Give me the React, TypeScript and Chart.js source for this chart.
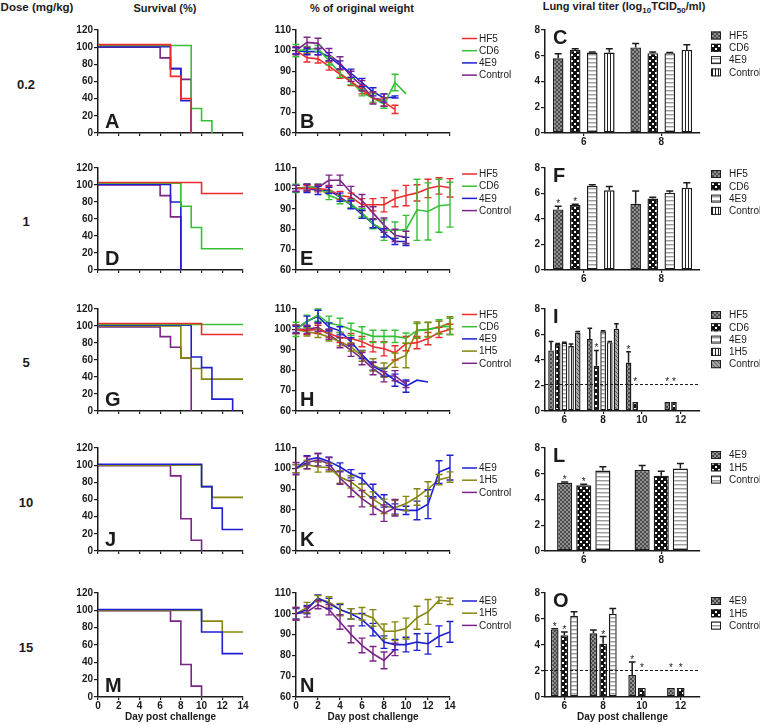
import React, { useEffect, useRef } from "react";
import { Chart, registerables } from "chart.js";
Chart.register(...registerables);

type Pt = [number, number];

// ---------------- Survival (%) : [day, percent] step points ----------------
const A_HF5: Pt[] = [[0, 103], [7, 66], [8, 40], [9, 0]];
const A_CD6: Pt[] = [[0, 102], [9, 28.6], [10, 14.3], [11, 0]];
const A_4E9: Pt[] = [[0, 100.6], [7, 75], [8, 37.5], [9, 0]];
const A_CTRL: Pt[] = [[0, 100], [6, 87.5], [7, 75], [8, 62.5], [9, 0]];

const D_HF5: Pt[] = [[0, 103], [10, 90], [14, 90]];
const D_CD6: Pt[] = [[0, 102], [8, 75], [9, 50], [10, 25], [14, 25]];
const D_4E9: Pt[] = [[0, 100.6], [7, 80], [8, 0]];
const D_CTRL: Pt[] = [[0, 100], [6, 87.5], [7, 62.5], [8, 0]];

const G_HF5: Pt[] = [[0, 103], [10, 90], [14, 90]];
const G_CD6: Pt[] = [[0, 101.7], [14, 101.7]];
const G_4E9: Pt[] = [[0, 100.8], [9, 63.5], [10, 51], [11, 14], [13, 0]];
const G_1H5: Pt[] = [[0, 100], [8, 62.5], [9, 50], [10, 37.5], [14, 37.5]];
const G_CTRL: Pt[] = [[0, 99], [6, 87.5], [7, 75], [8, 62.5], [9, 0]];

const J_4E9: Pt[] = [[0, 101], [10, 75], [11, 50], [12, 25], [14, 25]];
const J_1H5: Pt[] = [[0, 100], [10, 75], [11, 62.5], [14, 62.5]];
const J_CTRL: Pt[] = [[0, 99.5], [7, 87.5], [8, 37.5], [9, 12.5], [10, 0]];

const M_4E9: Pt[] = [[0, 101], [10, 75], [12, 50], [14, 50]];
const M_1H5: Pt[] = [[0, 100], [10, 87.5], [12, 75], [14, 75]];
const M_CTRL: Pt[] = [[0, 99.5], [7, 87.5], [8, 37.5], [9, 12.5], [10, 0]];

// ---------------- % of original weight (value per day from day 0) ----------------
const B_HF5 = [100, 96.5, 96, 92.5, 88.5, 85, 81, 77, 75, 71.5];
const B_HF5_ERR = [1.5, 2, 2, 2, 2, 2, 2, 2.5, 2, 2];
const B_CD6 = [100, 100.5, 101, 95, 89, 85, 79.5, 77, 74, 84.5, 79];
const B_CD6_ERR = [3, 1.5, 1.5, 2, 2, 1.5, 1.5, 2, 2, 4, 0];
const B_4E9 = [100, 99.5, 99.5, 97, 93, 89, 84.5, 80, 77, 77.5];
const B_4E9_ERR = [1.5, 1.5, 1.5, 2, 2, 2, 2, 2, 2, 0.5];
const B_CTRL = [100, 104, 103.5, 98, 94, 87.5, 83, 77, 76];
const B_CTRL_ERR = [2, 2.5, 2.5, 3, 3, 2.5, 2.5, 3, 3];

const E_HF5 = [100, 100, 99.8, 99.5, 96.5, 95.7, 92, 92, 92, 95, 96.5, 97.8, 100, 101.2, 100.3];
const E_HF5_ERR = [1.5, 1.5, 1.5, 1.5, 2, 2, 3, 3, 3.5, 4, 5, 4, 4.5, 4, 4.5];
const E_CD6 = [100, 100.5, 100.5, 96.5, 94.5, 92.5, 88, 82.7, 79.5, 79.5, 79.8, 89.5, 88.7, 91.5, 92];
const E_CD6_ERR = [2, 1.5, 1.5, 2, 2, 2, 2, 2.5, 5, 4, 7, 15, 14, 13, 11];
const E_4E9 = [100, 100, 99, 99, 95.7, 92, 87.3, 82.7, 78.2, 74, 74];
const E_4E9_ERR = [1.5, 2, 2, 1.5, 2, 2, 2, 2, 2, 1.5, 2];
const E_CTRL = [100, 100.5, 100.5, 104, 104, 98, 94, 88, 82, 77, 76];
const E_CTRL_ERR = [1.5, 1.5, 1.5, 2.5, 2.5, 3, 3, 3, 3.5, 3, 3];

const H_HF5 = [100, 99.5, 100, 98, 96, 95.5, 94, 91.5, 90.5, 88.5, 93, 93.5, 95.5, 98.5, 100];
const H_HF5_ERR = [2, 2, 2, 2, 2.5, 2.5, 2.5, 2.5, 3.5, 3.5, 3.5, 3, 3, 2.5, 2.5];
const H_CD6 = [100, 104, 107, 103, 102, 100, 98.3, 96.6, 96.6, 96.6, 95.7, 99.4, 99.9, 101.2, 101.5];
const H_CD6_ERR = [3.5, 3, 3, 3.5, 3.5, 3, 3, 3, 3, 3, 2.5, 3.5, 3.5, 3.5, 4];
const H_4E9 = [100, 104, 106.4, 101.2, 99.3, 93.9, 87.7, 82, 79, 75.1, 72.2, 75.1, 74.2];
const H_4E9_ERR = [1.5, 2.5, 3, 2, 2, 2, 2, 2, 2, 3, 3, 0, 0];
const H_1H5 = [100, 98.8, 98, 96.3, 93.9, 91.4, 86.9, 82.6, 80, 84.9, 87.2, 99.6, 100, 101, 103.2];
const H_1H5_ERR = [2, 2, 2, 2, 2, 2, 2.5, 3, 3.5, 3.5, 6, 4, 3.5, 3, 3];
const H_CTRL = [100, 100, 101, 97.6, 93.5, 89.8, 85.7, 80.8, 76.8, 77.3, 73];
const H_CTRL_ERR = [2, 2, 2, 2.5, 2.5, 3, 3, 3, 2.5, 2.5, 1.5];

const K_4E9 = [100, 104.3, 105.3, 103.5, 100.8, 97.5, 95.1, 89.4, 84.3, 80.4, 79.7, 79.7, 82.7, 98.3, 100.5];
const K_4E9_ERR = [2, 2, 2, 2, 2, 2, 2.5, 3, 3, 2.5, 2, 4.5, 7, 5.5, 6];
const K_1H5 = [100, 101.9, 100.8, 100.5, 95.9, 93.5, 89.4, 85.2, 81.7, 81, 83, 86.2, 90.1, 94.6, 95.9];
const K_1H5_ERR = [2, 2, 2.5, 2, 3, 3, 3, 3.5, 3.5, 3.5, 3.5, 4, 3.5, 2.5, 2.5];
const K_CTRL = [100, 102.9, 104.3, 102.4, 95.4, 90.3, 85.4, 81.7, 78.4, 81];
const K_CTRL_ERR = [3, 3, 3, 3, 3, 4, 4, 4, 4, 4];

const N_4E9 = [100, 102, 107.6, 104.9, 102, 100, 97.2, 92.4, 86.4, 85.2, 85.2, 86.4, 85.6, 89.2, 91.3];
const N_4E9_ERR = [2.5, 2, 1.5, 2.5, 2.5, 2.5, 3, 3, 3, 2.5, 3.5, 4, 5, 5, 5];
const N_1H5 = [100, 103, 107.3, 105.7, 102, 100, 100, 98, 91.6, 91.6, 92.9, 98.1, 100.9, 106.5, 106];
const N_1H5_ERR = [3, 2.5, 1.5, 2.5, 3, 2.5, 3, 4, 3.5, 4.5, 5, 5.5, 6, 1.5, 1.5];
const N_CTRL = [100, 100.9, 104.4, 102, 96.1, 90.1, 84.8, 80.8, 77.6, 82.9];
const N_CTRL_ERR = [3, 2.5, 2, 2.5, 3.5, 4, 3.5, 3.5, 4, 3];

// ---------------- Lung viral titer (log10 TCID50/ml) ----------------
const DAYS_2 = ["6", "8"];
const DAYS_4 = ["6", "8", "10", "12"];
const LIMIT = 2.1;

const C_HF5 = [5.8, 6.65];
const C_HF5_ERR = [0.35, 0.3];
const C_CD6 = [6.45, 6.2];
const C_CD6_ERR = [0.1, 0.1];
const C_4E9 = [6.25, 6.2];
const C_4E9_ERR = [0.05, 0.05];
const C_CTRL = [6.25, 6.45];
const C_CTRL_ERR = [0.3, 0.4];

const F_HF5 = [4.75, 5.2];
const F_HF5_ERR = [0.25, 1.0];
const F_HF5_STAR = [true, false];
const F_CD6 = [5.1, 5.6];
const F_CD6_ERR = [0.05, 0.1];
const F_CD6_STAR = [true, false];
const F_4E9 = [6.6, 6.05];
const F_4E9_ERR = [0.08, 0.15];
const F_CTRL = [6.25, 6.45];
const F_CTRL_ERR = [0.3, 0.4];

const I_HF5 = [4.75, 5.65, 3.8, 0.7];
const I_HF5_ERR = [0.7, 0.85, 0.85, 0];
const I_HF5_STAR = [false, false, true, true];
const I_CD6 = [5.25, 3.55, 0.7, 0.7];
const I_CD6_ERR = [0.05, 1.2, 0, 0];
const I_CD6_STAR = [false, true, true, true];
const I_4E9 = [5.35, 6.25, null, null];
const I_4E9_ERR = [0.05, 0.05, 0, 0];
const I_1H5 = [5.1, 5.4, null, null];
const I_1H5_ERR = [0.15, 0.05, 0, 0];
const I_CTRL = [6.15, 6.45, null, null];
const I_CTRL_ERR = [0.08, 0.4, 0, 0];

const L_4E9 = [5.3, 6.3];
const L_4E9_ERR = [0.05, 0.35];
const L_4E9_STAR = [true, false];
const L_1H5 = [5.1, 5.85];
const L_1H5_ERR = [0.08, 0.35];
const L_1H5_STAR = [true, false];
const L_CTRL = [6.25, 6.4];
const L_CTRL_ERR = [0.3, 0.4];

const O_4E9 = [5.2, 4.9, 1.7, 0.7];
const O_4E9_ERR = [0.05, 0.25, 1.0, 0];
const O_4E9_STAR = [true, false, true, true];
const O_1H5 = [4.75, 4.1, 0.7, 0.7];
const O_1H5_ERR = [0.25, 0.55, 0, 0];
const O_1H5_STAR = [true, true, true, true];
const O_CTRL = [6.25, 6.4, null, null];
const O_CTRL_ERR = [0.3, 0.4, 0, 0];

const DOSES = ["0.2", "1", "5", "10", "15"];
const LETTERS = ["A", "B", "C", "D", "E", "F", "G", "H", "I", "J", "K", "L", "M", "N", "O"];

// ---------------- styling / layout ----------------
const FONT = "'Liberation Sans', Arial, Helvetica, sans-serif";
const INK = "#1b1b1b";
const COLORS: Record<string, string> = {
  HF5: "#ec2b2b",
  CD6: "#36c036",
  "4E9": "#1e1ed2",
  "1H5": "#86860f",
  Control: "#7b2387",
};
const YW = 40;
const PT = 12;
const ROW_TOP = [30, 168, 309, 448, 593];
const ROW_BOT = [133, 270, 411, 551, 697];
const COL = [
  { ax: 98, right: 243, pr: 12 },
  { ax: 296, right: 450, pr: 62 },
  { ax: 545, right: 700, pr: 60 },
];
const XH = (row: number) => (row === 4 ? 28 : 16);

function geom(row: number, col: number) {
  const c = COL[col];
  return {
    left: c.ax - YW,
    top: ROW_TOP[row] - PT,
    width: YW + (c.right - c.ax) + c.pr,
    height: PT + (ROW_BOT[row] - ROW_TOP[row]) + XH(row),
  };
}

function makePattern(kind: string): any {
  const c = document.createElement("canvas");
  const g = c.getContext("2d")!;
  if (kind === "hatch" || kind === "hatch2") {
    c.width = 4; c.height = 4;
    g.fillStyle = kind === "hatch" ? "#8f8f8f" : "#a4a4a4";
    g.fillRect(0, 0, 4, 4);
    g.fillStyle = kind === "hatch" ? "#4a4a4a" : "#5c5c5c";
    for (let i = 0; i < 4; i++) {
      g.fillRect(i, i, 1, 1);
      if (kind === "hatch") g.fillRect(3 - i, i, 1, 1);
    }
  } else if (kind === "check") {
    c.width = 6; c.height = 6;
    g.fillStyle = "#111";
    g.fillRect(0, 0, 6, 6);
    g.fillStyle = "#fff";
    g.fillRect(0, 0, 2, 2);
    g.fillRect(3, 3, 2, 2);
  } else if (kind === "hstripe") {
    c.width = 4; c.height = 4;
    g.fillStyle = "#fff";
    g.fillRect(0, 0, 4, 4);
    g.fillStyle = "#9c9c9c";
    g.fillRect(0, 0, 4, 1);
    g.fillStyle = "#d2d2d2";
    g.fillRect(0, 1, 4, 1);
  } else {
    c.width = 3; c.height = 3;
    g.fillStyle = "#fff";
    g.fillRect(0, 0, 3, 3);
    g.fillStyle = "#222";
    g.fillRect(0, 0, 1, 3);
  }
  return g.createPattern(c, "repeat");
}

const tickFont = { family: FONT, size: 10, weight: "bold" as const };
const titleCfg = (show: boolean) => ({
  display: show,
  text: "Day post challenge",
  font: { family: FONT, size: 10, weight: "bold" as const },
  color: INK,
  padding: { top: 0, bottom: 2 },
});
const gridCfg = { drawOnChartArea: false, drawTicks: true, tickLength: 4, color: INK, lineWidth: 1.2 };
const xGridCfg = { drawOnChartArea: false, drawTicks: true, tickLength: 3, color: INK, lineWidth: 1.2 };
const borderCfg = { display: true, color: INK, width: 1.5 };

function xLinear(row: number) {
  const bottom = row === 4;
  return {
    type: "linear",
    min: 0,
    max: 14,
    ticks: { stepSize: 2, display: bottom, font: tickFont, color: INK, padding: 0, maxRotation: 0, autoSkip: false },
    grid: xGridCfg,
    border: borderCfg,
    title: titleCfg(bottom),
    afterFit: (s: any) => { s.height = XH(row); },
  };
}
function yLinear(min: number, max: number, step: number) {
  return {
    type: "linear",
    min,
    max,
    ticks: { stepSize: step, font: tickFont, color: INK, padding: 1 },
    grid: gridCfg,
    border: borderCfg,
    afterFit: (s: any) => { s.width = YW; },
  };
}

type LegendItem = { label: string; color?: string; fill?: any };
type OverlaySpec = {
  letter: string;
  pos: "bl" | "tl";
  dx: number;
  bars?: boolean;
  limit?: number;
  legend?: { kind: "line" | "box"; items: LegendItem[]; dy: number; gap: number };
};

function overlay(spec: OverlaySpec) {
  return {
    id: "overlay",
    afterDatasetsDraw(chart: any) {
      const { ctx, chartArea: a, scales } = chart;
      const ys = scales.y;
      ctx.save();
      if (spec.limit != null) {
        const y = Math.round(ys.getPixelForValue(spec.limit)) + 0.5;
        ctx.setLineDash([3, 2]);
        ctx.strokeStyle = INK;
        ctx.lineWidth = 1;
        ctx.beginPath();
        ctx.moveTo(a.left, y);
        ctx.lineTo(a.right, y);
        ctx.stroke();
        ctx.setLineDash([]);
      }
      chart.data.datasets.forEach((ds: any, i: number) => {
        if (!ds.errs) return;
        const meta = chart.getDatasetMeta(i);
        meta.data.forEach((el: any, j: number) => {
          const raw = ds.data[j];
          const v = typeof raw === "number" ? raw : raw == null ? null : raw.y;
          if (v == null) return;
          const e = ds.errs[j] || 0;
          if (spec.bars) {
            const top = ys.getPixelForValue(v + e);
            if (e > 0) {
              const cw = Math.min(3.5, el.width / 2 - 0.5);
              ctx.strokeStyle = INK;
              ctx.lineWidth = 1.5;
              ctx.beginPath();
              ctx.moveTo(el.x, el.y);
              ctx.lineTo(el.x, top);
              ctx.moveTo(el.x - cw, top);
              ctx.lineTo(el.x + cw, top);
              ctx.stroke();
            }
            if (ds.stars && ds.stars[j]) {
              let sy = top;
              if (spec.limit != null) sy = Math.min(sy, ys.getPixelForValue(spec.limit));
              ctx.fillStyle = INK;
              ctx.font = `10px ${FONT}`;
              ctx.textAlign = "center";
              ctx.textBaseline = "alphabetic";
              ctx.fillText("*", el.x, sy + 1);
            }
          } else if (e > 0) {
            const t = ys.getPixelForValue(v + e);
            const b = ys.getPixelForValue(v - e);
            ctx.strokeStyle = ds.borderColor;
            ctx.lineWidth = 1.4;
            ctx.beginPath();
            ctx.moveTo(el.x, t);
            ctx.lineTo(el.x, b);
            ctx.moveTo(el.x - 3.5, t);
            ctx.lineTo(el.x + 3.5, t);
            ctx.moveTo(el.x - 3.5, b);
            ctx.lineTo(el.x + 3.5, b);
            ctx.stroke();
          }
        });
      });
      // panel letter
      ctx.fillStyle = INK;
      ctx.font = `bold 20px ${FONT}`;
      ctx.textAlign = "left";
      ctx.textBaseline = "alphabetic";
      ctx.fillText(spec.letter, a.left + spec.dx, spec.pos === "bl" ? a.bottom - 5 : a.top + 13.5);
      // legend
      if (spec.legend) {
        const L = spec.legend;
        ctx.font = `10px ${FONT}`;
        ctx.textBaseline = "middle";
        L.items.forEach((it, k) => {
          const y = a.top + L.dy + k * L.gap;
          if (L.kind === "line") {
            ctx.strokeStyle = it.color!;
            ctx.lineWidth = 1.5;
            ctx.beginPath();
            ctx.moveTo(a.right + 12, y);
            ctx.lineTo(a.right + 27, y);
            ctx.stroke();
          } else {
            ctx.fillStyle = it.fill;
            ctx.fillRect(a.right + 11, y - 4, 10, 8);
            ctx.strokeStyle = INK;
            ctx.lineWidth = 1;
            ctx.strokeRect(a.right + 11.5, y - 3.5, 9, 7);
          }
          ctx.fillStyle = INK;
          ctx.fillText(it.label, a.right + 29, y + 0.5);
        });
      }
      ctx.restore();
    },
  };
}

function baseOptions(row: number, col: number, scales: any) {
  return {
    responsive: false,
    animation: false,
    events: [],
    layout: { padding: { top: PT, right: COL[col].pr, left: 0, bottom: 0 } },
    plugins: { legend: { display: false }, tooltip: { enabled: false } },
    scales,
  };
}

function survival(row: number, letter: string, series: { label: string; pts: Pt[] }[]) {
  return {
    type: "line",
    data: {
      datasets: series.map((s) => ({
        label: s.label,
        data: s.pts.map(([x, y]) => ({ x, y })),
        borderColor: COLORS[s.label],
        backgroundColor: COLORS[s.label],
        borderWidth: 1.6,
        pointRadius: 0,
        stepped: "before",
        fill: false,
      })),
    },
    options: baseOptions(row, 0, { x: xLinear(row), y: yLinear(0, 120, 20) }),
    plugins: [overlay({ letter, pos: "bl", dx: 7 })],
  };
}

function weight(row: number, letter: string, legendDy: number, series: { label: string; vals: number[]; err: number[] }[]) {
  return {
    type: "line",
    data: {
      datasets: series.map((s) => ({
        label: s.label,
        data: s.vals.map((v, i) => ({ x: i, y: v })),
        errs: s.err,
        borderColor: COLORS[s.label],
        backgroundColor: COLORS[s.label],
        borderWidth: 1.6,
        pointRadius: 0,
        tension: 0,
        fill: false,
      })),
    },
    options: baseOptions(row, 1, { x: xLinear(row), y: yLinear(60, 110, 10) }),
    plugins: [
      overlay({
        letter,
        pos: "bl",
        dx: 4,
        legend: { kind: "line", dy: legendDy, gap: 12.2, items: series.map((s) => ({ label: s.label, color: COLORS[s.label] })) },
      }),
    ],
  };
}

function titer(
  row: number,
  letter: string,
  cats: string[],
  legendDy: number,
  cp: number,
  bp: number,
  limit: number | undefined,
  series: { label: string; fill: any; vals: (number | null)[]; err: number[]; stars?: boolean[] }[]
) {
  const bottom = row === 4;
  return {
    type: "bar",
    data: {
      labels: cats,
      datasets: series.map((s) => ({
        label: s.label,
        data: s.vals,
        errs: s.err,
        stars: s.stars,
        backgroundColor: s.fill,
        borderColor: INK,
        borderWidth: 1.4,
        borderSkipped: false,
        barPercentage: bp,
        categoryPercentage: cp,
      })),
    },
    options: baseOptions(row, 2, {
      x: {
        type: "category",
        offset: true,
        ticks: { font: tickFont, color: INK, padding: 0, maxRotation: 0, autoSkip: false },
        grid: { ...xGridCfg, offset: false },
        border: borderCfg,
        title: titleCfg(bottom),
        afterFit: (s: any) => { s.height = XH(row); },
      },
      y: yLinear(0, 8, 2),
    }),
    plugins: [
      overlay({
        letter,
        pos: "tl",
        dx: 8,
        bars: true,
        limit,
        legend: { kind: "box", dy: legendDy, gap: 12.3, items: series.map((s) => ({ label: s.label, fill: s.fill })) },
      }),
    ],
  };
}

function buildConfigs(P: Record<string, any>) {
  return [
    survival(0, "A", [
      { label: "HF5", pts: A_HF5 }, { label: "CD6", pts: A_CD6 }, { label: "4E9", pts: A_4E9 }, { label: "Control", pts: A_CTRL },
    ]),
    weight(0, "B", 8.5, [
      { label: "HF5", vals: B_HF5, err: B_HF5_ERR }, { label: "CD6", vals: B_CD6, err: B_CD6_ERR },
      { label: "4E9", vals: B_4E9, err: B_4E9_ERR }, { label: "Control", vals: B_CTRL, err: B_CTRL_ERR },
    ]),
    titer(0, "C", DAYS_2, 5.5, 0.88, 0.62, undefined, [
      { label: "HF5", fill: P.hatch, vals: C_HF5, err: C_HF5_ERR },
      { label: "CD6", fill: P.check, vals: C_CD6, err: C_CD6_ERR },
      { label: "4E9", fill: P.hstripe, vals: C_4E9, err: C_4E9_ERR },
      { label: "Control", fill: P.vstripe, vals: C_CTRL, err: C_CTRL_ERR },
    ]),
    survival(1, "D", [
      { label: "HF5", pts: D_HF5 }, { label: "CD6", pts: D_CD6 }, { label: "4E9", pts: D_4E9 }, { label: "Control", pts: D_CTRL },
    ]),
    weight(1, "E", 6, [
      { label: "HF5", vals: E_HF5, err: E_HF5_ERR }, { label: "CD6", vals: E_CD6, err: E_CD6_ERR },
      { label: "4E9", vals: E_4E9, err: E_4E9_ERR }, { label: "Control", vals: E_CTRL, err: E_CTRL_ERR },
    ]),
    titer(1, "F", DAYS_2, 6, 0.88, 0.62, undefined, [
      { label: "HF5", fill: P.hatch, vals: F_HF5, err: F_HF5_ERR, stars: F_HF5_STAR },
      { label: "CD6", fill: P.check, vals: F_CD6, err: F_CD6_ERR, stars: F_CD6_STAR },
      { label: "4E9", fill: P.hstripe, vals: F_4E9, err: F_4E9_ERR },
      { label: "Control", fill: P.vstripe, vals: F_CTRL, err: F_CTRL_ERR },
    ]),
    survival(2, "G", [
      { label: "HF5", pts: G_HF5 }, { label: "CD6", pts: G_CD6 }, { label: "4E9", pts: G_4E9 },
      { label: "1H5", pts: G_1H5 }, { label: "Control", pts: G_CTRL },
    ]),
    weight(2, "H", 5.5, [
      { label: "HF5", vals: H_HF5, err: H_HF5_ERR }, { label: "CD6", vals: H_CD6, err: H_CD6_ERR },
      { label: "4E9", vals: H_4E9, err: H_4E9_ERR }, { label: "1H5", vals: H_1H5, err: H_1H5_ERR },
      { label: "Control", vals: H_CTRL, err: H_CTRL_ERR },
    ]),
    titer(2, "I", DAYS_4, 6, 0.86, 0.85, LIMIT, [
      { label: "HF5", fill: P.hatch, vals: I_HF5, err: I_HF5_ERR, stars: I_HF5_STAR },
      { label: "CD6", fill: P.check, vals: I_CD6, err: I_CD6_ERR, stars: I_CD6_STAR },
      { label: "4E9", fill: P.hstripe, vals: I_4E9, err: I_4E9_ERR },
      { label: "1H5", fill: P.vstripe, vals: I_1H5, err: I_1H5_ERR },
      { label: "Control", fill: P.hatch2, vals: I_CTRL, err: I_CTRL_ERR },
    ]),
    survival(3, "J", [
      { label: "4E9", pts: J_4E9 }, { label: "1H5", pts: J_1H5 }, { label: "Control", pts: J_CTRL },
    ]),
    weight(3, "K", 20, [
      { label: "4E9", vals: K_4E9, err: K_4E9_ERR }, { label: "1H5", vals: K_1H5, err: K_1H5_ERR },
      { label: "Control", vals: K_CTRL, err: K_CTRL_ERR },
    ]),
    titer(3, "L", DAYS_2, 7, 0.74, 0.79, undefined, [
      { label: "4E9", fill: P.hatch, vals: L_4E9, err: L_4E9_ERR, stars: L_4E9_STAR },
      { label: "1H5", fill: P.check, vals: L_1H5, err: L_1H5_ERR, stars: L_1H5_STAR },
      { label: "Control", fill: P.hstripe, vals: L_CTRL, err: L_CTRL_ERR },
    ]),
    survival(4, "M", [
      { label: "4E9", pts: M_4E9 }, { label: "1H5", pts: M_1H5 }, { label: "Control", pts: M_CTRL },
    ]),
    weight(4, "N", 8, [
      { label: "4E9", vals: N_4E9, err: N_4E9_ERR }, { label: "1H5", vals: N_1H5, err: N_1H5_ERR },
      { label: "Control", vals: N_CTRL, err: N_CTRL_ERR },
    ]),
    titer(4, "O", DAYS_4, 8, 0.75, 0.8, LIMIT, [
      { label: "4E9", fill: P.hatch, vals: O_4E9, err: O_4E9_ERR, stars: O_4E9_STAR },
      { label: "1H5", fill: P.check, vals: O_1H5, err: O_1H5_ERR, stars: O_1H5_STAR },
      { label: "Control", fill: P.hstripe, vals: O_CTRL, err: O_CTRL_ERR },
    ]),
  ];
}

const txt = (cx: number, cy: number, size: number): React.CSSProperties => ({
  position: "absolute",
  left: cx,
  top: cy,
  transform: "translate(-50%, -50%)",
  whiteSpace: "nowrap",
  lineHeight: 1,
  fontSize: size,
  fontWeight: "bold",
});

export default function App() {
  const refs = useRef<(HTMLCanvasElement | null)[]>([]);

  useEffect(() => {
    const P = {
      hatch: makePattern("hatch"),
      hatch2: makePattern("hatch2"),
      check: makePattern("check"),
      hstripe: makePattern("hstripe"),
      vstripe: makePattern("vstripe"),
    };
    const configs = buildConfigs(P);
    const charts = configs.map((cfg, i) => new Chart(refs.current[i]!, cfg as any));
    return () => charts.forEach((c) => c.destroy());
  }, []);

  const doseY = ROW_TOP.map((t, i) => (t + ROW_BOT[i]) / 2 + 2);

  return (
    <div
      style={{
        position: "absolute",
        left: 0,
        top: 0,
        width: 760,
        height: 725,
        background: "#fff",
        fontFamily: FONT,
        color: INK,
        overflow: "hidden",
      }}
    >
      <div style={txt(37, 8, 11.5)}>Dose (mg/kg)</div>
      <div style={txt(165, 8, 11)}>Survival (%)</div>
      <div style={txt(362, 8, 11)}>% of original weight</div>
      <div style={txt(624, 8, 11)}>
        Lung viral titer (log<sub style={{ fontSize: 8 }}>10</sub>TCID<sub style={{ fontSize: 8 }}>50</sub>/ml)
      </div>
      {DOSES.map((d, i) => (
        <div key={d} style={txt(26, doseY[i], 13)}>
          {d}
        </div>
      ))}
      {LETTERS.map((l, i) => {
        const g = geom(Math.floor(i / 3), i % 3);
        return (
          <canvas
            key={l}
            ref={(el) => { refs.current[i] = el; }}
            width={g.width}
            height={g.height}
            style={{ position: "absolute", left: g.left, top: g.top, width: g.width, height: g.height }}
          />
        );
      })}
    </div>
  );
}
